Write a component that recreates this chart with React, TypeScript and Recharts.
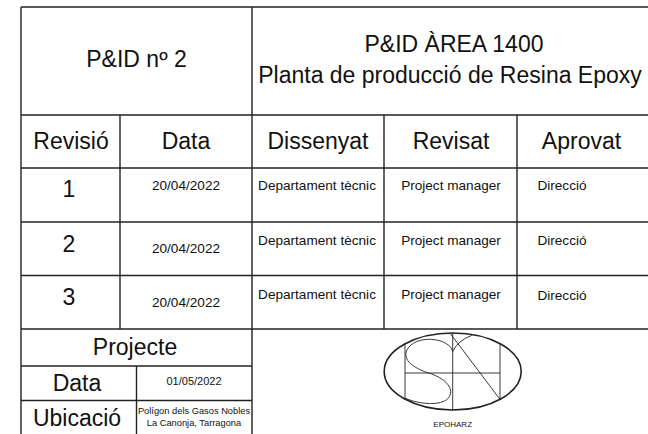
import React from "react"
import { ComposedChart, ReferenceLine, Scatter, XAxis, YAxis } from "recharts"

const W = 648
const H = 434

// title block contents
const drawingNumber = "P&ID nº 2"
const drawingTitle = ["P&ID ÀREA 1400", "Planta de producció de Resina Epoxy"]
const revisionHeaders = ["Revisió", "Data", "Dissenyat", "Revisat", "Aprovat"]
const revisions = ["1", "2", "3"]
const revisionDates = ["20/04/2022", "20/04/2022", "20/04/2022"]
const designedBy = ["Departament tècnic", "Departament tècnic", "Departament tècnic"]
const reviewedBy = ["Project manager", "Project manager", "Project manager"]
const approvedBy = ["Direcció", "Direcció", "Direcció"]
const projectLabel = "Projecte"
const projectFields = ["Data", "Ubicació"]
const projectDate = ["01/05/2022"]
const projectLocation = ["Polígon dels Gasos Nobles", "La Canonja, Tarragona"]
const companyName = "EPOHARZ"

// layout of the grid, in pixels of the frame
const colX = [21, 120, 252, 384, 517, W]
const rowY = [7, 115, 168, 222, 275.5, 329]
const lowerRowY = [329, 366, 400.5, H]
const lowerSplitX = 136.5
const headerCenters = [71, 186, 318, 451, 581.5]
const textCenters = [70.5, 186, 317, 451, 562]
const numberBaseline = [197, 252, 305]
const dateBaseline = [190, 253, 307]
const nameBaseline = [190, 244.5, 298.5]
const logoCenter = { x: 452.7, y: 371.5 }

const BIG = 23
const MID = 13.6
const FONT = "'Liberation Sans', Arial, sans-serif"
const INK = "#111"
const LINE = "#222"

type Label = { x: number; y: number; text: string; size: number }

const labels: Label[] = []
labels.push({ x: (colX[0] + colX[2]) / 2, y: 67, text: drawingNumber, size: BIG })
labels.push({ x: 454, y: 52, text: drawingTitle[0], size: BIG })
labels.push({ x: 450, y: 83, text: drawingTitle[1], size: BIG })
revisionHeaders.forEach((h, i) => {
  labels.push({ x: headerCenters[i], y: 149, text: h, size: BIG })
})
revisions.forEach((r, i) => {
  labels.push({ x: 69, y: numberBaseline[i], text: r, size: BIG })
  labels.push({ x: textCenters[1], y: dateBaseline[i], text: revisionDates[i], size: MID })
  labels.push({ x: textCenters[2], y: nameBaseline[i], text: designedBy[i], size: MID })
  labels.push({ x: textCenters[3], y: nameBaseline[i], text: reviewedBy[i], size: MID })
  labels.push({ x: textCenters[4], y: nameBaseline[i] + (i === 2 ? 1.5 : 0), text: approvedBy[i], size: MID })
})
labels.push({ x: 135, y: 355, text: projectLabel, size: BIG })
labels.push({ x: 77, y: 391, text: projectFields[0], size: BIG })
labels.push({ x: 77, y: 426, text: projectFields[1], size: BIG })
labels.push({ x: 194, y: 385, text: projectDate[0], size: 11 })
projectLocation.forEach((t, i) => {
  labels.push({ x: 194, y: 414 + i * 12, text: t, size: 9.3 })
})
labels.push({ x: logoCenter.x, y: 427, text: companyName, size: 8 })

const renderLabel = (props: any) => {
  const { cx, cy, payload } = props
  return (
    <text
      x={cx}
      y={cy}
      textAnchor="middle"
      fontSize={payload.size}
      fontFamily={FONT}
      fill={INK}>
      {payload.text}
    </text>
  )
}

// the company mark: ellipse with S / H / N strokes
const renderLogo = (props: any) => {
  const { cx, cy } = props
  const rx = 68.5
  const ry = 38.5
  const half = (dx: number) => ry * Math.sqrt(1 - (dx / rx) * (dx / rx))
  return (
    <g transform={`translate(${cx},${cy})`} fill="none" stroke="#222">
      <ellipse cx={0} cy={0} rx={rx} ry={ry} strokeWidth={1.6} />
      <g strokeWidth={0.9}>
        <line x1={-47.7} y1={-half(-47.7)} x2={-47.7} y2={half(-47.7)} />
        <line x1={0} y1={-ry} x2={0} y2={ry} />
        <line x1={47.3} y1={-half(47.3)} x2={47.3} y2={half(47.3)} />
        <line x1={-47.7} y1={1.5} x2={47.3} y2={1.5} />
        <line x1={-2} y1={-37.5} x2={47.3} y2={half(47.3)} />
        <path d="M 19 -36 Q 5 -31 0 -20 C -3 -34 -38 -38 -46 -21 C -51 -9 -33 -1 -21 2.5 C -1 10 3 23 -8 29.5 C -18 34.5 -38 31.5 -47.7 26.5" />
      </g>
    </g>
  )
}

const hLine = (y: number, x1: number, x2: number) => (
  <ReferenceLine
    key={`h${y}-${x1}`}
    segment={[{ x: x1, y }, { x: x2, y }]}
    stroke={LINE}
    strokeWidth={1.4}
    ifOverflow="visible"
  />
)

const vLine = (x: number, y1: number, y2: number) => (
  <ReferenceLine
    key={`v${x}-${y1}`}
    segment={[{ x, y: y1 }, { x, y: y2 }]}
    stroke={LINE}
    strokeWidth={1.4}
    ifOverflow="visible"
  />
)

export default function App() {
  return (
    <div style={{ position: "absolute", left: 0, top: 0, background: "#fff" }}>
      <ComposedChart
        width={W}
        height={H}
        margin={{ top: 0, right: 0, bottom: 0, left: 0 }}>
        <XAxis type="number" dataKey="x" domain={[0, W]} hide allowDataOverflow />
        <YAxis type="number" dataKey="y" domain={[0, H]} reversed hide allowDataOverflow />
        {rowY.map((y) => hLine(y, colX[0], W))}
        {lowerRowY.slice(1, 3).map((y) => hLine(y, colX[0], colX[2]))}
        {vLine(colX[0], rowY[0], H)}
        {vLine(colX[2], rowY[0], H)}
        {vLine(colX[1], rowY[1], rowY[5])}
        {vLine(colX[3], rowY[1], rowY[5])}
        {vLine(colX[4], rowY[1], rowY[5])}
        {vLine(lowerSplitX, lowerRowY[1], H)}
        <Scatter data={[logoCenter]} shape={renderLogo} isAnimationActive={false} />
        <Scatter data={labels} shape={renderLabel} isAnimationActive={false} />
      </ComposedChart>
    </div>
  )
}
